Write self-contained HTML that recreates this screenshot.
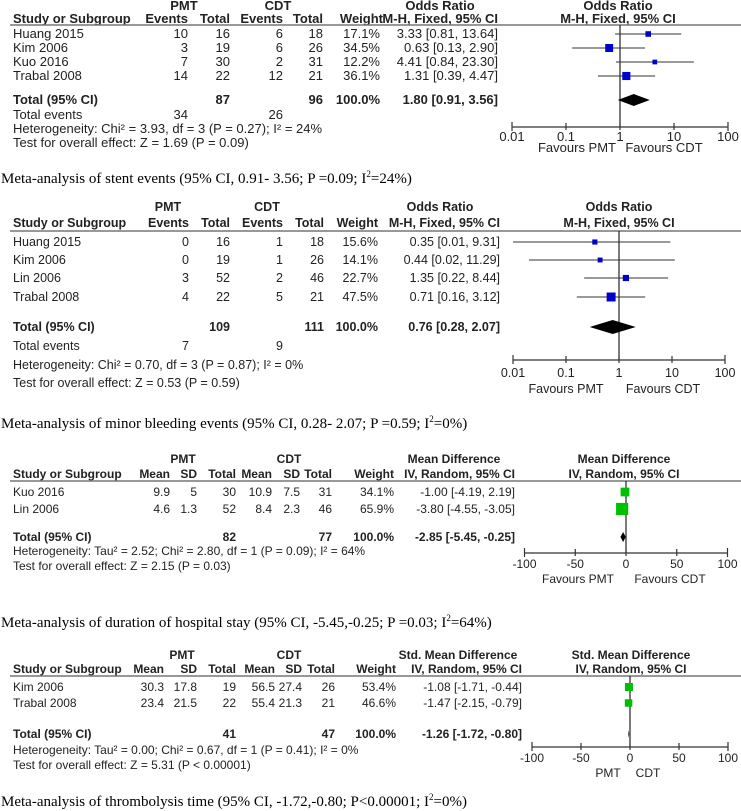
<!DOCTYPE html>
<html><head><meta charset="utf-8">
<style>
html,body{margin:0;padding:0;background:#fff;}
svg{display:block;}
text{font-family:"Liberation Sans",sans-serif;fill:#222;}
.cap{font-family:"Liberation Serif",serif;font-size:15px;fill:#000;}
</style></head>
<body>
<svg id="fig" width="741" height="811" viewBox="0 0 741 811" xmlns="http://www.w3.org/2000/svg">
<rect x="0" y="0" width="741" height="811" fill="#fff"/>
</svg>
<script>
// ---------- Panel 1: stent events ----------
const p1Studies = ["Huang  2015","Kim 2006","Kuo 2016","Trabal  2008"];
const p1Cells = [["10","16","6","18","17.1%","3.33 [0.81, 13.64]"],["3","19","6","26","34.5%","0.63 [0.13, 2.90]"],["7","30","2","31","12.2%","4.41 [0.84, 23.30]"],["14","22","12","21","36.1%","1.31 [0.39, 4.47]"]];
const p1Est = [3.33,0.63,4.41,1.31];
const p1Lo = [0.81,0.13,0.84,0.39];
const p1Hi = [13.64,2.90,23.30,4.47];
const p1Weight = [17.1,34.5,12.2,36.1];
const p1Total = [1.80,0.91,3.56];
const p1TotalCells = ["87","96","100.0%","1.80 [0.91, 3.56]"];
const p1Events = ["34","26"];
const p1Ticks = [0.01,0.1,1,10,100];
const p1TickLabels = ["0.01","0.1","1","10","100"];

// ---------- Panel 2: minor bleeding ----------
const p2Studies = ["Huang  2015","Kim 2006","Lin 2006","Trabal  2008"];
const p2Cells = [["0","16","1","18","15.6%","0.35 [0.01, 9.31]"],["0","19","1","26","14.1%","0.44 [0.02, 11.29]"],["3","52","2","46","22.7%","1.35 [0.22, 8.44]"],["4","22","5","21","47.5%","0.71 [0.16, 3.12]"]];
const p2Est = [0.35,0.44,1.35,0.71];
const p2Lo = [0.01,0.02,0.22,0.16];
const p2Hi = [9.31,11.29,8.44,3.12];
const p2Weight = [15.6,14.1,22.7,47.5];
const p2Total = [0.76,0.28,2.07];
const p2TotalCells = ["109","111","100.0%","0.76 [0.28, 2.07]"];
const p2Events = ["7","9"];
const p2Ticks = [0.01,0.1,1,10,100];
const p2TickLabels = ["0.01","0.1","1","10","100"];

// ---------- Panel 3: hospital stay ----------
const p3Studies = ["Kuo 2016","Lin 2006"];
const p3Cells = [["9.9","5","30","10.9","7.5","31","34.1%","-1.00 [-4.19, 2.19]"],["4.6","1.3","52","8.4","2.3","46","65.9%","-3.80 [-4.55, -3.05]"]];
const p3Est = [-1.00,-3.80];
const p3Lo = [-4.19,-4.55];
const p3Hi = [2.19,-3.05];
const p3Weight = [34.1,65.9];
const p3Total = [-2.85,-5.45,-0.25];
const p3TotalCells = ["82","77","100.0%","-2.85 [-5.45, -0.25]"];
const p3Ticks = [-100,-50,0,50,100];
const p3TickLabels = ["-100","-50","0","50","100"];

// ---------- Panel 4: thrombolysis time ----------
const p4Studies = ["Kim 2006","Trabal  2008"];
const p4Cells = [["30.3","17.8","19","56.5","27.4","26","53.4%","-1.08 [-1.71, -0.44]"],["23.4","21.5","22","55.4","21.3","21","46.6%","-1.47 [-2.15, -0.79]"]];
const p4Est = [-1.08,-1.47];
const p4Lo = [-1.71,-2.15];
const p4Hi = [-0.44,-0.79];
const p4Weight = [53.4,46.6];
const p4Total = [-1.26,-1.72,-0.80];
const p4TotalCells = ["41","47","100.0%","-1.26 [-1.72, -0.80]"];
const p4Ticks = [-100,-50,0,50,100];
const p4TickLabels = ["-100","-50","0","50","100"];

const NS = "http://www.w3.org/2000/svg";
const svg = document.getElementById("fig");
function mk(tag, attrs){ const e=document.createElementNS(NS,tag); for(const k in attrs) e.setAttribute(k,attrs[k]); svg.appendChild(e); return e; }
function txt(x,y,s,size,anchor,bold,name){
  const e=mk("text",{x:x,y:y,"font-size":size,"text-anchor":anchor||"start"});
  if(bold) e.setAttribute("font-weight","bold");
  e.textContent=s;
  
  
  return e;
}
function ln(x1,y1,x2,y2,col,w,name){
  const e=mk("line",{x1:x1,y1:y1,x2:x2,y2:y2,stroke:col,"stroke-width":w});
  
  
  return e;
}
function caption(y,html,name){
  const e=mk("text",{x:1,y:y,class:"cap"});
  e.innerHTML=html;
  
  
}

function drawPanel(L, studies, cells, est, lo, hi, wt, tot, totCells, events, ticks, tickLabels){
  const fs=L.fs;
  const sx = L.log ? (v=>L.cx+L.dec*Math.log10(v)) : (v=>L.cx+L.unit*v);
  L.h1.forEach(h=>txt(h[0],L.yh1,h[1],fs,"middle",true,"column-group-header"));
  txt(13,L.yh2,"Study or Subgroup",fs,"start",true,"study-column-header");
  L.h2.forEach(h=>txt(h[0],L.yh2,h[1],fs,h[2]||"end",true,"column-header"));
  ln(10,L.yline,741,L.yline,"#777",1.6,"header-rule");
  ln(L.cx,L.yline,L.cx,L.yaxis,"#222",1.2,"null-effect-line");
  ln(sx(ticks[0]),L.yaxis,sx(ticks[ticks.length-1]),L.yaxis,"#333",1.2,"x-axis");
  ticks.forEach((t,i)=>{
    const ext=(i==0||i==ticks.length-1)?5:4;
    ln(sx(t),L.yaxis-ext,sx(t),L.yaxis+ext-1,"#333",1.2,"x-tick");
    txt(sx(t),L.ylab,tickLabels[i],fs,"middle",false,"x-tick-label");
  });
  L.fav.forEach(f=>txt(f[0],L.yfav,f[1],fs,"middle",false,"favours-label"));
  studies.forEach((s,i)=>{
    const y=L.rows[i];
    txt(13,y,s,fs,"start",false,"study-name");
    cells[i].forEach((c,j)=>txt(L.cols[j],y,c,fs,"end",false,"study-value"));
    const cy=y-4;
    ln(sx(lo[i]),cy,sx(hi[i]),cy,L.ciCol,1,"confidence-interval");
    const sz=L.k*Math.sqrt(wt[i]);
    const r=mk("rect",{x:sx(est[i])-sz/2,y:cy-sz/2,width:sz,height:sz,fill:L.mk});
    
    
  });
  txt(13,L.ytot,"Total (95% CI)",fs,"start",true,"total-label");
  L.totCols.forEach((x,j)=>txt(x,L.ytot,totCells[j],fs,"end",true,"total-value"));
  const dy=L.ytot-4, dh=L.dh;
  const d=mk("polygon",{points:`${sx(tot[1])},${dy} ${sx(tot[0])},${dy-dh} ${sx(tot[2])},${dy} ${sx(tot[0])},${dy+dh}`,fill:"#000"});
  
  
  if(events){
    txt(13,L.yev,"Total events",fs,"start",false,"total-events-label");
    txt(L.cols[0],L.yev,events[0],fs,"end",false,"total-events-value");
    txt(L.cols[2],L.yev,events[1],fs,"end",false,"total-events-value");
  }
  txt(13,L.yhet,L.het,fs,"start",false,"heterogeneity-text");
  txt(13,L.ytest,L.test,fs,"start",false,"overall-effect-text");
}

drawPanel({fs:13,log:true,cx:620,dec:54,yh1:10,yh2:23,yline:25,yaxis:127,ylab:141,yfav:152,
  h1:[[184,"PMT"],[278,"CDT"],[440,"Odds Ratio"],[618,"Odds Ratio"]],
  h2:[[188,"Events"],[230,"Total"],[283,"Events"],[323,"Total"],[383,"Weight"],[498,"M-H, Fixed, 95% CI"],[618,"M-H, Fixed, 95% CI","middle"]],
  fav:[[577,"Favours PMT"],[664,"Favours CDT"]],
  rows:[38,52,66,80],cols:[188,230,283,323,380,498],ciCol:"#333",mk:"#0000cc",k:1.35,
  ytot:104,totCols:[230,323,380,498],dh:6,yev:119,yhet:133,ytest:147,
  het:"Heterogeneity: Chi² = 3.93, df = 3 (P = 0.27); I² = 24%",test:"Test for overall effect: Z = 1.69 (P = 0.09)"},
  p1Studies,p1Cells,p1Est,p1Lo,p1Hi,p1Weight,p1Total,p1TotalCells,p1Events,p1Ticks,p1TickLabels);
caption(183,'Meta-analysis of stent events (95% CI, 0.91- 3.56; P =0.09; I<tspan dy="-6" font-size="9">2</tspan><tspan dy="6">=24%)</tspan>',"caption-stent-events");

drawPanel({fs:12.5,log:true,cx:619,dec:53,yh1:211,yh2:227,yline:231,yaxis:360,ylab:377,yfav:393,
  h1:[[168,"PMT"],[267,"CDT"],[440,"Odds Ratio"],[619,"Odds Ratio"]],
  h2:[[189,"Events"],[230,"Total"],[283,"Events"],[324,"Total"],[378,"Weight"],[500,"M-H, Fixed, 95% CI"],[619,"M-H, Fixed, 95% CI","middle"]],
  fav:[[566,"Favours PMT"],[663,"Favours CDT"]],
  rows:[246,264,282,301],cols:[189,230,283,324,378,500],ciCol:"#333",mk:"#0000cc",k:1.3,
  ytot:331,totCols:[230,324,378,500],dh:7,yev:350,yhet:369,ytest:387,
  het:"Heterogeneity: Chi² = 0.70, df = 3 (P = 0.87); I² = 0%",test:"Test for overall effect: Z = 0.53 (P = 0.59)"},
  p2Studies,p2Cells,p2Est,p2Lo,p2Hi,p2Weight,p2Total,p2TotalCells,p2Events,p2Ticks,p2TickLabels);
caption(428,'Meta-analysis of minor bleeding events (95% CI, 0.28- 2.07; P =0.59; I<tspan dy="-6" font-size="9">2</tspan><tspan dy="6">=0%)</tspan>',"caption-minor-bleeding");

drawPanel({fs:12,log:false,cx:626,unit:1.015,yh1:463,yh2:478,yline:481,yaxis:553,ylab:568,yfav:583,
  h1:[[183,"PMT"],[289,"CDT"],[454,"Mean Difference"],[624,"Mean Difference"]],
  h2:[[170,"Mean"],[197,"SD"],[236,"Total"],[272,"Mean"],[300,"SD"],[332,"Total"],[394,"Weight"],[515,"IV, Random, 95% CI"],[624,"IV, Random, 95% CI","middle"]],
  fav:[[578,"Favours PMT"],[670,"Favours CDT"]],
  rows:[496,513],cols:[170,197,236,272,300,332,394,515],ciCol:"#333",mk:"#00c000",k:1.5,
  ytot:541,totCols:[236,332,394,515],dh:5,yhet:555,ytest:570,
  het:"Heterogeneity: Tau² = 2.52; Chi² = 2.80, df = 1 (P = 0.09); I² = 64%",test:"Test for overall effect: Z = 2.15 (P = 0.03)"},
  p3Studies,p3Cells,p3Est,p3Lo,p3Hi,p3Weight,p3Total,p3TotalCells,null,p3Ticks,p3TickLabels);
caption(627,'Meta-analysis of duration of hospital stay (95% CI, -5.45,-0.25; P =0.03; I<tspan dy="-6" font-size="9">2</tspan><tspan dy="6">=64%)</tspan>',"caption-hospital-stay");

drawPanel({fs:12,log:false,cx:630,unit:0.98,yh1:659,yh2:673,yline:676,yaxis:747,ylab:762,yfav:777,
  h1:[[182,"PMT"],[289,"CDT"],[458,"Std. Mean Difference"],[631,"Std. Mean Difference"]],
  h2:[[164,"Mean"],[197,"SD"],[236,"Total"],[275,"Mean"],[302,"SD"],[335,"Total"],[396,"Weight"],[522,"IV, Random, 95% CI"],[631,"IV, Random, 95% CI","middle"]],
  fav:[[608,"PMT"],[648,"CDT"]],
  rows:[691,707],cols:[164,197,236,275,302,335,396,522],ciCol:"#333",mk:"#00c000",k:1.1,
  ytot:738,totCols:[236,335,396,522],dh:4,yhet:754,ytest:769,
  het:"Heterogeneity: Tau² = 0.00; Chi² = 0.67, df = 1 (P = 0.41); I² = 0%",test:"Test for overall effect: Z = 5.31 (P < 0.00001)"},
  p4Studies,p4Cells,p4Est,p4Lo,p4Hi,p4Weight,p4Total,p4TotalCells,null,p4Ticks,p4TickLabels);
caption(806,'Meta-analysis of thrombolysis time (95% CI, -1.72,-0.80; P&lt;0.00001; I<tspan dy="-6" font-size="9">2</tspan><tspan dy="6">=0%)</tspan>',"caption-thrombolysis-time");
</script>
</body></html>
